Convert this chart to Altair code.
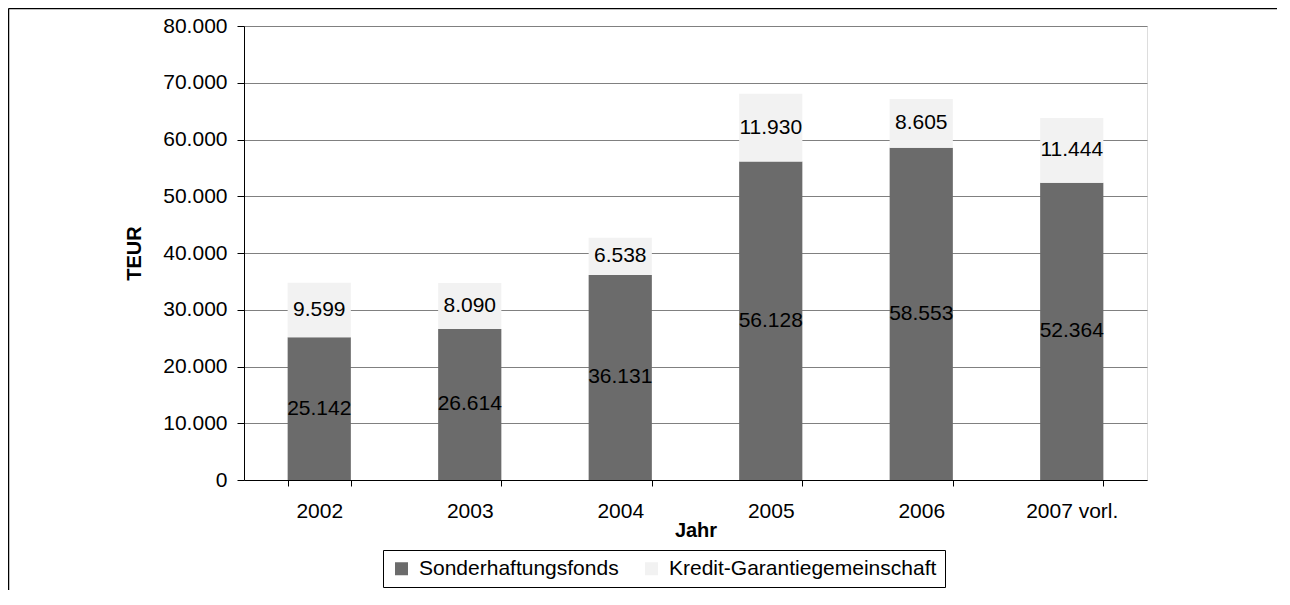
import altair as alt
import pandas as pd

years = ["2002", "2003", "2004", "2005", "2006", "2007 vorl."]
sonderhaftungsfonds = [25142, 26614, 36131, 56128, 58553, 52364]
kredit_garantie = [9599, 8090, 6538, 11930, 8605, 11444]
series_names = ["Sonderhaftungsfonds", "Kredit-Garantiegemeinschaft"]
series_colors = ["#6b6b6b", "#f2f2f2"]
y_ticks = [0, 10000, 20000, 30000, 40000, 50000, 60000, 70000, 80000]

rows = []
for i, y in enumerate(years):
    rows.append({"year": y, "series": series_names[0], "value": sonderhaftungsfonds[i], "order": 0})
    rows.append({"year": y, "series": series_names[1], "value": kredit_garantie[i], "order": 1})
df = pd.DataFrame(rows)

FONT = "Liberation Sans"
FS = 21

base = alt.Chart(df).transform_stack(
    stack="value", as_=["v0", "v1"], groupby=["year"], sort=[alt.SortField("order")]
).transform_calculate(
    mid="(datum.v0 + datum.v1) / 2",
    label="replace(format(datum.value, ','), ',', '.')",
)

x_enc = alt.X(
    "year:N",
    sort=years,
    scale=alt.Scale(paddingInner=0.58, paddingOuter=0.29),
    axis=alt.Axis(
        title="Jahr", labelAngle=0, tickBand="extent", tickSize=6, tickColor="black",
        domainColor="black", labelPadding=14, labelFontSize=FS, labelFont=FONT,
        labelColor="black", titleFont=FONT, titleFontSize=20, titleFontWeight="bold",
        titleColor="black", titleY=50, titleBaseline="middle", grid=False,
    ),
)

bars = base.mark_bar().encode(
    x=x_enc,
    y=alt.Y(
        "v0:Q",
        scale=alt.Scale(domain=[0, 80000], nice=False),
        axis=alt.Axis(
            title="TEUR", values=y_ticks,
            labelExpr="replace(format(datum.value, ','), ',', '.')",
            tickSize=7, tickColor="black", domainColor="black", labelPadding=10,
            labelFontSize=FS, labelFont=FONT, labelColor="black",
            gridColor="#808080", gridWidth=1,
            titleFont=FONT, titleFontSize=20, titleFontWeight="bold", titleColor="black",
            titleX=-110, titleY=227, titleAngle=-90, titleBaseline="middle", titleAlign="center",
        ),
    ),
    y2="v1:Q",
    color=alt.Color(
        "series:N",
        scale=alt.Scale(domain=series_names, range=series_colors),
        sort=series_names,
        legend=alt.Legend(
            title=None, orient="none", legendX=139, legendY=524, direction="horizontal",
            symbolType="square", symbolSize=169, symbolStrokeWidth=0,
            labelFont=FONT, labelFontSize=FS, labelColor="black", labelOffset=7,
            labelLimit=1000, columnPadding=22, padding=8, strokeColor="black",
            fillColor="white",
        ),
    ),
    order=alt.Order("order:Q"),
)

texts = base.mark_text(fontSize=FS, font=FONT, color="black", baseline="middle", align="center").encode(
    x=alt.X("year:N", sort=years),
    y=alt.Y("mid:Q"),
    text="label:N",
)

frame_df = pd.DataFrame({"k": [0]})
frame_top = alt.Chart(frame_df).mark_rule(color="black", strokeWidth=1.5).encode(
    x=alt.value(-235.5), x2=alt.value(1100), y=alt.value(-17.5)
)
frame_left = alt.Chart(frame_df).mark_rule(color="black", strokeWidth=1.5).encode(
    x=alt.value(-235.5), y=alt.value(-17.5), y2=alt.value(600)
)

chart = alt.layer(bars, texts, frame_top, frame_left).properties(
    width=903, height=454,
    padding={"left": 236, "top": 18, "right": 130, "bottom": 110},
    autosize=alt.AutoSizeParams(type="none"),
).configure_view(stroke="#808080", strokeWidth=1).configure(background="white")

chart.save("out.html", embed_options={"renderer": "svg", "actions": False})
